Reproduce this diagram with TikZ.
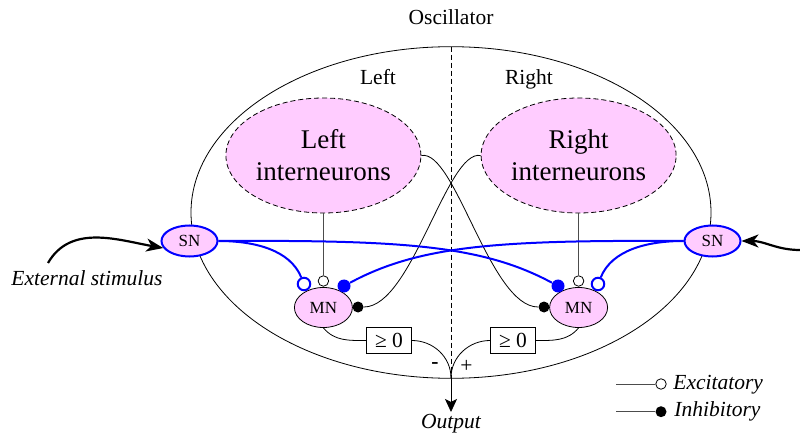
\documentclass[tikz,border=0pt]{standalone}
\usepackage{fontspec}
\setmainfont{Liberation Serif}
\usetikzlibrary{arrows.meta, shapes.geometric}
\definecolor{pinkfill}{RGB}{255,204,255}

\begin{document}
\begin{tikzpicture}[x=1pt, y=1pt, line width=0.8pt,
		every node/.style={font=\fontsize{21.5}{25}\selectfont},
		pool/.style={ellipse, draw, dash pattern=on 5pt off 3pt, fill=pinkfill, minimum width=195pt, minimum height=115pt, inner sep=0pt, align=center, font=\fontsize{27}{32}\selectfont},
		sensor/.style={ellipse, draw=blue, line width=2pt, fill=pinkfill, minimum width=56pt, minimum height=31pt, inner sep=0pt, font=\fontsize{17}{20}\selectfont},
		motor/.style={ellipse, draw, fill=pinkfill, minimum width=58pt, minimum height=40pt, inner sep=0pt, font=\fontsize{17}{20}\selectfont},
		gate/.style={draw, minimum width=45pt, minimum height=26pt, inner sep=0pt},
		exc/.style={circle, draw, fill=white, minimum size=10.5pt, inner sep=0pt},
		inh/.style={circle, fill=black, minimum size=11pt, inner sep=0pt},
		bexc/.style={exc, draw=blue, line width=2pt, minimum size=12.5pt},
		binh/.style={inh, fill=blue, minimum size=13pt},
		bwire/.style={blue, line width=2pt},
		gwire/.style={black!70},
		stim/.style={line width=2.2pt, -{Stealth[length=17pt, width=13pt, inset=5pt]}},
		note/.style={font=\fontsize{21.5}{25}\selectfont\itshape},
		lbl/.style={anchor=base}]
	\useasboundingbox (0,0) rectangle (800,434);
	
	% 1. 振荡器外框与中线 (外框先画, 让 SN 的填充盖住它)
	\draw (451,221.5) ellipse (260pt and 165.8pt);
	\coordinate (top) at (451,387.3);
	\coordinate (sum) at (451,56);
	\coordinate (outtip) at (451,22);
	\draw[dash pattern=on 5pt off 3pt, line width=0.7pt] (top) -- (sum);
	\node[lbl] at (451,409) {Oscillator};
	\node[lbl] at (378,349) {Left};
	\node[lbl] at (529,349) {Right};
	
	% 2. 神经元
	\node[pool] (lin) at (323.4,278.5) {Left\\interneurons};
	\node[pool] (rin) at (578.6,278.5) {Right\\interneurons};
	\node[sensor] (lsn) at (189.5,193) {SN};
	\node[sensor] (rsn) at (712.5,193) {SN};
	\node[motor] (lmn) at (323.4,126.5) {MN};
	\node[motor] (rmn) at (578.6,126.5) {MN};
	\node[gate] (lgate) at (389,93.5) {≥ 0};
	\node[gate] (rgate) at (513,93.5) {≥ 0};
	
	% 3. 突触末端 (空心 = 兴奋, 实心 = 抑制)
	\node[bexc] (lmnS) at (304,150) {};
	\node[exc] (lmnI) at (323.4,153) {};
	\node[binh] (lmnX) at (344,148) {};
	\node[inh] (lmnC) at (358,127) {};
	\node[binh] (rmnX) at (558,148) {};
	\node[exc] (rmnI) at (578.6,153) {};
	\node[bexc] (rmnS) at (598,150) {};
	\node[inh] (rmnC) at (544,127) {};
	
	% 4. 连线
	\draw[gwire] (lin.south) -- (lmnI);
	\draw[gwire] (rin.south) -- (rmnI);
	\draw (lin.east) .. controls (455,285) and (490,127) .. (rmnC);
	\draw (rin.west) .. controls (447,285) and (412,127) .. (lmnC);
	\draw[bwire] (lsn.east) .. controls (255,193) and (290,184) .. (lmnS);
	\draw[bwire] (lsn.east) .. controls (402,194) and (482,189) .. (rmnX);
	\draw[bwire] (rsn.west) .. controls (500,194) and (420,189) .. (lmnX);
	\draw[bwire] (rsn.west) .. controls (647,193) and (612,184) .. (rmnS);
	\draw (lmn.south) to[out=-50, in=180] (lgate.west);
	\draw (rmn.south) to[out=-130, in=0] (rgate.east);
	\draw (lgate.east) to[out=0, in=90] (sum);
	\draw (rgate.west) to[out=180, in=90] (sum);
	\draw[-{Stealth[length=13pt, width=12pt, inset=3pt]}] (sum) -- (outtip);
	\node[note, lbl] (output) at (451,6) {Output};
	\node at (435,68) {\textbf{-}};
	\node at (466.5,68) {+};
	
	% 5. 外部刺激
	\coordinate (stimL) at (48,171);
	\coordinate (stimR) at (800,184);
	\draw[stim] (stimL) to[out=60, in=170] (lsn.195);
	\draw[stim] (stimR) to[out=180, in=0] (rsn.east);
	\node[note, lbl] (stimtext) at (87,148) {External stimulus};
	
	% 6. 图例
	\coordinate (exA) at (616,50);
	\node[exc] (exB) at (661,50) {};
	\draw[gwire] (exA) -- (exB);
	\node[note, anchor=base west, inner sep=0pt] at (673,44.7) {Excitatory};
	\coordinate (inA) at (616,22.3);
	\node[inh] (inB) at (661,22.3) {};
	\draw[gwire] (inA) -- (inB);
	\node[note, anchor=base west, inner sep=0pt] at (674,17.3) {Inhibitory};
\end{tikzpicture}
\end{document}
